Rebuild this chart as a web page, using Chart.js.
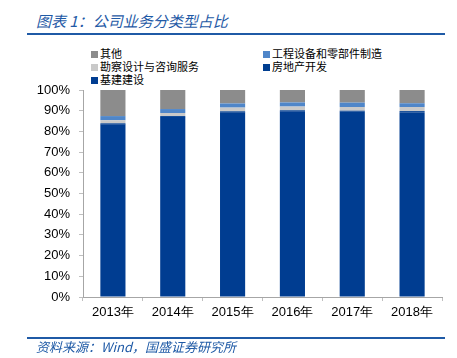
<!DOCTYPE html>
<html><head><meta charset="utf-8">
<script src="https://cdn.jsdelivr.net/npm/chart.js@4/dist/chart.umd.min.js"></script>
<style>
html,body{margin:0;padding:0;background:#fff;width:457px;height:358px;overflow:hidden;position:relative;font-family:"Noto Sans CJK SC",sans-serif;}
#c{position:absolute;left:0;top:0;}
.title{position:absolute;left:36px;top:11px;font-size:15px;font-style:italic;color:#1f5aa6;font-family:"Noto Sans CJK SC",sans-serif;line-height:20px;}
.line{position:absolute;left:27px;width:418px;height:2px;background:#1f5aa6;}
.src{position:absolute;left:36px;top:338px;font-size:13px;font-style:italic;color:#1f5aa6;font-family:"Noto Sans CJK SC",sans-serif;line-height:18px;}
#legend{position:absolute;left:91px;top:47px;width:360px;font-size:11px;color:#000;}
.li{position:absolute;white-space:nowrap;line-height:13px;}
.sw{display:inline-block;width:7px;height:7px;margin-right:2px;vertical-align:0px;}
</style></head>
<body>
<div class="title">图表 1：公司业务分类型占比</div>
<div class="line" style="top:33px"></div>
<div id="legend"></div>
<canvas id="c" width="457" height="358"></canvas>
<div class="line" style="top:337px"></div>
<div class="src">资料来源：Wind，国盛证券研究所</div>
<script>
const categories = ["2013年","2014年","2015年","2016年","2017年","2018年"];
const seriesNames = ["基建建设","房地产开发","勘察设计与咨询服务","工程设备和零部件制造","其他"];
const infra      = [83.4, 86.9, 89.2, 89.7, 89.5, 89.3];
const realEstate = [0.5, 0.5, 0.5, 0.5, 0.5, 0.5];
const survey     = [1.5, 1.5, 1.8, 1.8, 1.8, 2.0];
const equipment  = [2.0, 1.9, 2.0, 2.0, 2.1, 1.8];
const other      = [12.6, 9.2, 6.5, 6.0, 6.1, 6.4];
const colors = ["#003d91","#003e90","#c9c9c9","#4f86c9","#8c8c8c"];
const yTicks = [0,10,20,30,40,50,60,70,80,90,100];

const seriesData = [infra, realEstate, survey, equipment, other];

// custom legend (reverse order, 2 columns)
const legendOrder = [4,3,2,1,0];
const leg = document.getElementById('legend');
legendOrder.forEach((di, i) => {
  const d = document.createElement('div');
  d.className = 'li';
  d.style.left = (i % 2 === 0 ? 0 : 172) + 'px';
  d.style.top = (Math.floor(i / 2) * 13) + 'px';
  d.innerHTML = '<span class="sw" style="background:' + colors[di] + '"></span>' + seriesNames[di];
  leg.appendChild(d);
});

new Chart(document.getElementById('c'), {
  type: 'bar',
  data: {
    labels: categories,
    datasets: seriesData.map((arr, i) => ({
      label: seriesNames[i],
      data: arr,
      backgroundColor: colors[i],
      borderWidth: 0,
      barPercentage: 0.42,
      categoryPercentage: 1.0
    }))
  },
  options: {
    responsive: false,
    animation: false,
    devicePixelRatio: 1,
    layout: { padding: { top: 90, right: 15, bottom: 0, left: 0 } },
    plugins: { legend: { display: false }, tooltip: { enabled: false } },
    scales: {
      x: {
        stacked: true,
        grid: { drawOnChartArea: false, drawTicks: true, tickLength: 4, color: '#bfbfbf' },
        border: { color: '#a6a6a6', width: 1 },
        ticks: { color: '#000', font: { family: 'Liberation Sans, Arial', size: 13 }, padding: 4 },
        afterFit: s => { s.height = 61; }
      },
      y: {
        stacked: true,
        min: 0, max: 100,
        afterBuildTicks: s => { s.ticks = yTicks.map(v => ({ value: v })); },
        grid: { drawOnChartArea: false, drawTicks: true, tickLength: 4, color: '#bfbfbf' },
        border: { color: '#a6a6a6', width: 1 },
        ticks: { color: '#000', font: { family: 'Liberation Sans, Arial', size: 13 }, padding: 9,
                 callback: v => v + '%' },
        afterFit: s => { s.width = 83; }
      }
    }
  }
});
</script>
</body></html>
